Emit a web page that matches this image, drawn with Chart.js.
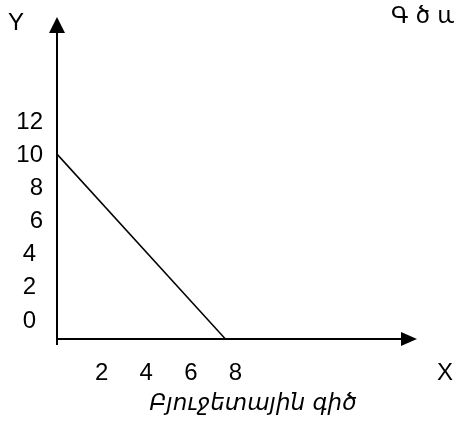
<!DOCTYPE html>
<html>
<head>
<meta charset="utf-8">
<script src="https://cdn.jsdelivr.net/npm/chart.js@4"></script>
<style>
  html, body { margin: 0; padding: 0; background: #fff; }
  #wrap { width: 454px; height: 421px; }
</style>
</head>
<body>
<div id="wrap"><canvas id="myChart"></canvas></div>
<script>
// tick labels
const xTicks = [2, 4, 6, 8];
const yTicks = [0, 2, 4, 6, 8, 10, 12];
// budget line: from Y intercept to where it meets the X axis
const budgetX = [0, 7.55];
const budgetY = [10, -1.15];
const axisNames = ["X", "Y"];
const lineTitle = "Բյուջետային գիծ";
const cornerText = "Գ ծ ա";

const numFont = '24px "Liberation Sans", Arial, sans-serif';

// axes with arrows + labels, drawn from the chart scales
const axesPlugin = {
  id: "axesPlugin",
  afterDraw(chart) {
    const ctx = chart.ctx;
    const xs = chart.scales.x;
    const ys = chart.scales.y;
    const a = chart.chartArea;
    const x0 = xs.getPixelForValue(0);
    const yb = a.bottom;
    ctx.save();
    ctx.strokeStyle = "#000";
    ctx.fillStyle = "#000";
    ctx.lineWidth = 2;

    // Y axis
    ctx.beginPath();
    ctx.moveTo(x0, yb + 6);
    ctx.lineTo(x0, a.top + 14);
    ctx.stroke();
    ctx.beginPath();
    ctx.moveTo(x0, a.top);
    ctx.lineTo(x0 - 8, a.top + 16);
    ctx.lineTo(x0 + 8, a.top + 16);
    ctx.closePath();
    ctx.fill();

    // X axis
    ctx.beginPath();
    ctx.moveTo(x0, yb);
    ctx.lineTo(a.right - 14, yb);
    ctx.stroke();
    ctx.beginPath();
    ctx.moveTo(a.right, yb);
    ctx.lineTo(a.right - 16, yb - 7);
    ctx.lineTo(a.right - 16, yb + 7);
    ctx.closePath();
    ctx.fill();

    // tick labels (lower ones sit a bit further left, as in the original)
    ctx.font = numFont;
    ctx.textBaseline = "middle";
    ctx.textAlign = "right";
    yTicks.forEach(v => {
      const right = v < 6 ? 36 : 43;
      ctx.fillText(String(v), right, ys.getPixelForValue(v) + 1);
    });
    ctx.textAlign = "center";
    xTicks.forEach(v => {
      ctx.fillText(String(v), xs.getPixelForValue(v), 373);
    });

    // axis names
    ctx.fillText(axisNames[0], 445, 373);
    ctx.fillText(axisNames[1], 16, 23);

    // captions
    ctx.font = 'italic 23px "DejaVu Sans", sans-serif';
    ctx.fillText(lineTitle, 253, 404);
    ctx.textAlign = "left";
    ctx.font = '23px "DejaVu Sans", sans-serif';
    ctx.fillText(cornerText, 391, 17);
    ctx.restore();
  }
};

const ctx = document.getElementById("myChart").getContext("2d");
const myChart = new Chart(ctx, {
  type: "scatter",
  data: {
    datasets: [{
      data: budgetX.map((x, i) => ({ x: x, y: budgetY[i] })),
      showLine: true,
      borderColor: "#000",
      borderWidth: 1.5,
      pointRadius: 0,
      clip: false
    }]
  },
  options: {
    responsive: true,
    maintainAspectRatio: false,
    animation: false,
    layout: { padding: { left: 57, right: 37, top: 17, bottom: 82 } },
    plugins: { legend: { display: false }, tooltip: { enabled: false } },
    scales: {
      x: { type: "linear", display: false, min: 0, max: 16.14 },
      y: { type: "linear", display: false, min: -1.15, max: 18.27 }
    }
  },
  plugins: [axesPlugin]
});
</script>
</body>
</html>
